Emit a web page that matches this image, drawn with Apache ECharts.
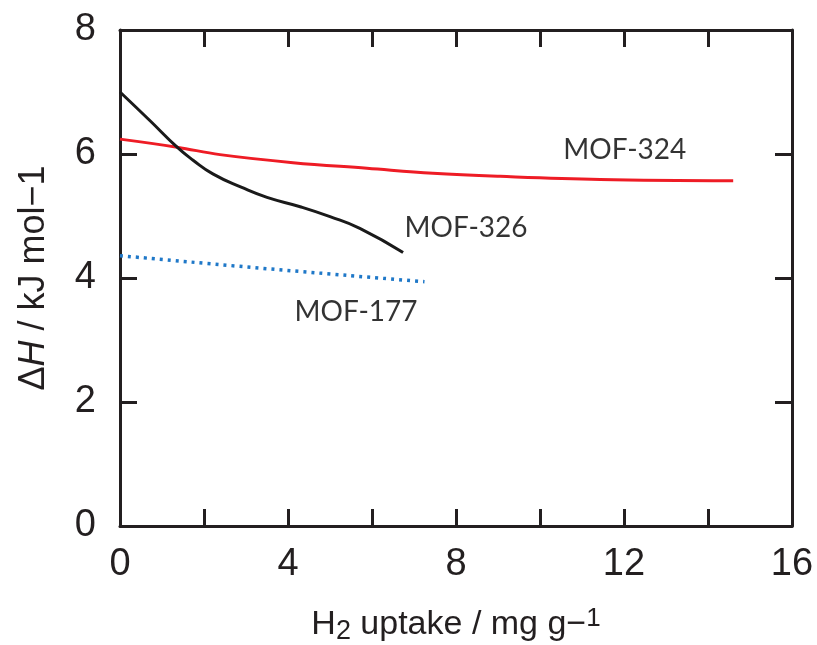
<!DOCTYPE html>
<html><head><meta charset="utf-8">
<script src="https://cdn.jsdelivr.net/npm/echarts@6/dist/echarts.min.js"></script>
<style>html,body{margin:0;padding:0;background:#fff}#c{width:817px;height:645px}</style>
</head><body><div id="c"></div>
<script>
// Data (x: H2 uptake mg/g, y: ΔH kJ/mol)
const mof324X = [0, 1.36, 2.38, 4.12, 5.88, 7.45, 9.05, 11.43, 14.6];
const mof324Y = [6.24, 6.11, 5.99, 5.86, 5.77, 5.69, 5.64, 5.59, 5.57];
const mof326X = [0, 0.71, 1.36, 1.74, 2.21, 2.9, 3.5, 4.29, 5.0, 5.71, 6.74];
const mof326Y = [7.0, 6.54, 6.11, 5.90, 5.68, 5.46, 5.30, 5.15, 4.99, 4.80, 4.41];
const mof177X = [0, 3.5, 7.25];
const mof177Y = [4.36, 4.15, 3.94];
const labelNames = ['MOF-324', 'MOF-326', 'MOF-177'];
const labelX = [12.02, 8.24, 5.62];
const labelY = [6.06, 4.80, 3.46];
const xTicks = [0, 4, 8, 12, 16];
const yTicks = [0, 2, 4, 6, 8];

const zip = (a, b) => a.map((v, i) => [v, b[i]]);
const ink = '#231f20';
const axisCommon = {
  axisLine: {show: true, onZero: false, lineStyle: {color: ink, width: 3}},
  axisTick: {show: true, inside: true, length: 17, lineStyle: {color: ink, width: 3}},
  splitLine: {show: false}
};
const chart = echarts.init(document.getElementById('c'), null, {renderer: 'canvas'});
chart.setOption({
  animation: false,
  backgroundColor: '#fff',
  grid: {left: 120, right: 25, top: 30, bottom: 119, containLabel: false, outerBoundsMode: 'none'},
  xAxis: [
    Object.assign({type: 'value', min: 0, max: 16, interval: 2, position: 'bottom',
      name: '{a|H}{sub|2}{a| uptake / mg g\u2212}{sup|1}', nameLocation: 'middle', nameGap: 78,
      nameTextStyle: {rich: {
        a: {fontFamily: 'Liberation Sans', fontSize: 34, color: ink},
        sub: {fontFamily: 'Liberation Sans', fontSize: 27, color: ink, padding: [14, 0, 0, 0]},
        sup: {fontFamily: 'Liberation Sans', fontSize: 26, color: ink, padding: [0, 0, 12, 0]}
      }},
      axisLabel: {margin: 20, fontFamily: 'Liberation Sans', fontSize: 38, color: ink,
        formatter: v => xTicks.includes(v) ? String(v) : ''}}, axisCommon),
    Object.assign({type: 'value', min: 0, max: 16, interval: 2, position: 'top',
      axisLabel: {show: false}}, axisCommon)
  ],
  yAxis: [
    Object.assign({type: 'value', min: 0, max: 8, interval: 2, position: 'left',
      name: '{a|\u0394}{i|H}{a| / kJ mol\u22121}', nameLocation: 'middle', nameGap: 68,
      nameTextStyle: {rich: {
        a: {fontFamily: 'Liberation Sans', fontSize: 36, color: ink},
        i: {fontFamily: 'Liberation Sans', fontSize: 36, fontStyle: 'italic', color: ink}
      }},
      axisLabel: {margin: 24, fontFamily: 'Liberation Sans', fontSize: 38, color: ink,
        formatter: v => yTicks.includes(v) ? String(v) : ''}}, axisCommon),
    Object.assign({type: 'value', min: 0, max: 8, interval: 2, position: 'right',
      axisLabel: {show: false}}, axisCommon)
  ],
  series: [
    {type: 'line', data: zip(mof324X, mof324Y), smooth: 0.4, symbol: 'none',
      lineStyle: {color: '#ee1c25', width: 3}, z: 3},
    {type: 'line', data: zip(mof326X, mof326Y), smooth: 0.5, symbol: 'none',
      lineStyle: {color: '#1a1a1a', width: 3}, z: 4},
    {type: 'line', data: zip(mof177X, mof177Y), smooth: true, symbol: 'none',
      lineStyle: {color: '#1f78c8', width: 3.5, type: [3, 5]}, z: 2},
    {type: 'scatter', symbolSize: 0, silent: true,
      data: labelNames.map((n, i) => ({name: n, value: [labelX[i], labelY[i]]})),
      label: {show: true, position: 'inside', formatter: p => p.name,
        fontFamily: 'Lato', fontSize: 28, color: '#000'}}
  ]
});
</script></body></html>
